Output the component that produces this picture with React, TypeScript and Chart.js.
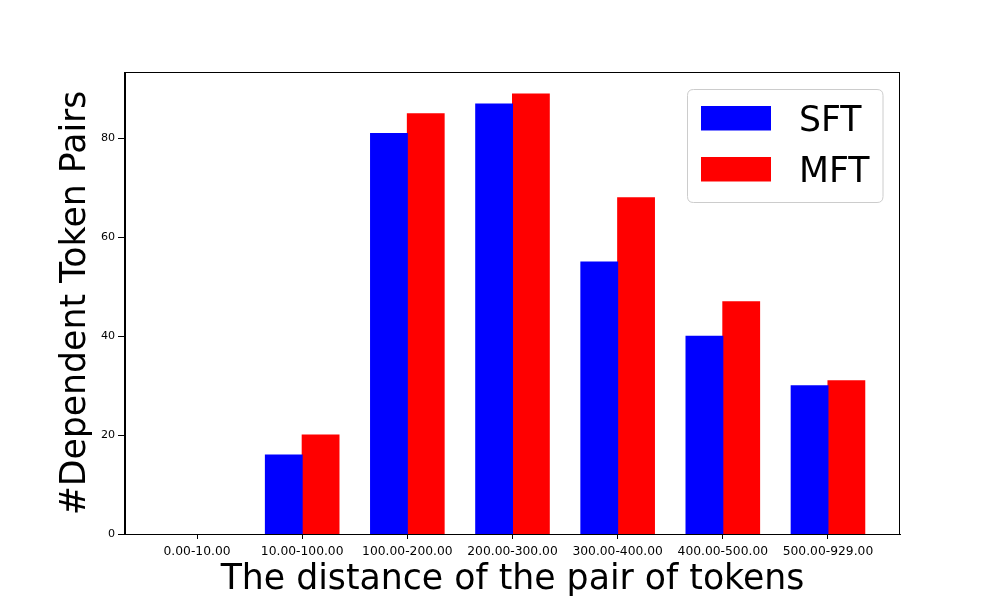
import React, { useEffect, useRef } from "react";
import { Chart, registerables } from "chart.js";

Chart.register(...registerables);

const categories = [
  "0.00-10.00",
  "10.00-100.00",
  "100.00-200.00",
  "200.00-300.00",
  "300.00-400.00",
  "400.00-500.00",
  "500.00-929.00",
];
const sftValues = [0, 16, 81, 87, 55, 40, 30];
const mftValues = [0, 20, 85, 89, 68, 47, 31];
const yTicks = [0, 20, 40, 60, 80];
const seriesNames = ["SFT", "MFT"];
const seriesColors = ["#0000ff", "#ff0000"];
const xTitle = "The distance of the pair of tokens";
const yTitle = "#Dependent Token Pairs";

const FONT = "'DejaVu Sans', sans-serif";

const framePlugin = {
  id: "mplFrame",
  afterDatasetsDraw(chart: any) {
    const { ctx, chartArea } = chart;
    ctx.save();
    ctx.strokeStyle = "#000";
    ctx.lineWidth = 1;
    const l = Math.round(chartArea.left) - 0.5;
    const t = Math.round(chartArea.top) + 0.5;
    const r = Math.round(chartArea.right) - 0.5;
    const b = Math.round(chartArea.bottom) + 0.5;
    ctx.strokeRect(l, t, r - l, b - t);
    ctx.restore();
  },
};

const legendPlugin = {
  id: "mplLegend",
  afterDraw(chart: any) {
    const { ctx, chartArea } = chart;
    const fs = 34.7;
    const w = 195.5;
    const h = 113;
    const x = Math.round(chartArea.right) - 17 - w;
    const y = Math.round(chartArea.top) + 17.5;
    ctx.save();
    const rad = 6;
    ctx.beginPath();
    ctx.moveTo(x + rad, y);
    ctx.lineTo(x + w - rad, y);
    ctx.quadraticCurveTo(x + w, y, x + w, y + rad);
    ctx.lineTo(x + w, y + h - rad);
    ctx.quadraticCurveTo(x + w, y + h, x + w - rad, y + h);
    ctx.lineTo(x + rad, y + h);
    ctx.quadraticCurveTo(x, y + h, x, y + h - rad);
    ctx.lineTo(x, y + rad);
    ctx.quadraticCurveTo(x, y, x + rad, y);
    ctx.closePath();
    ctx.fillStyle = "rgba(255,255,255,0.8)";
    ctx.fill();
    ctx.strokeStyle = "#cccccc";
    ctx.lineWidth = 1;
    ctx.stroke();
    chart.data.datasets.forEach((ds: any, i: number) => {
      const py = y + 16.5 + i * 51;
      ctx.fillStyle = ds.backgroundColor;
      ctx.fillRect(x + 13.5, py, 70, 24.5);
      ctx.fillStyle = "#000";
      ctx.font = `${fs}px ${FONT}`;
      ctx.textAlign = "left";
      ctx.textBaseline = "alphabetic";
      ctx.fillText(ds.label, x + 111.5, py + 12.25 + 0.3645 * fs);
    });
    ctx.restore();
  },
};

const inflate = (c: any) => (c.raw && c.raw.y > 0 ? 0.5 : 0);

export default function App() {
  const ref = useRef<HTMLCanvasElement>(null);

  useEffect(() => {
    if (!ref.current) return;
    const chart = new Chart(ref.current, {
      type: "bar",
      data: {
        datasets: [
          {
            label: seriesNames[0],
            data: sftValues.map((v, i) => ({ x: i, y: v })),
            backgroundColor: seriesColors[0],
            borderWidth: 0,
            inflateAmount: inflate,
            categoryPercentage: 0.7,
            barPercentage: 1.0,
          },
          {
            label: seriesNames[1],
            data: mftValues.map((v, i) => ({ x: i, y: v })),
            backgroundColor: seriesColors[1],
            borderWidth: 0,
            inflateAmount: inflate,
            categoryPercentage: 0.7,
            barPercentage: 1.0,
          },
        ],
      },
      options: {
        responsive: false,
        animation: false,
        events: [],
        layout: { padding: { top: 72, right: 100, left: 0, bottom: 0 } },
        plugins: {
          legend: { display: false },
          tooltip: { enabled: false },
        },
        scales: {
          x: {
            type: "linear",
            offset: false,
            min: -0.685,
            max: 6.685,
            afterBuildTicks: (s: any) => {
              s.ticks = categories.map((_, i) => ({ value: i }));
            },
            afterFit: (s: any) => {
              s.height = 66;
            },
            ticks: {
              autoSkip: false,
              maxRotation: 0,
              minRotation: 0,
              padding: 5,
              color: "#000",
              font: { family: FONT, size: 12.3 },
              callback: (_v: any, i: number) => categories[i],
            },
            grid: {
              display: true,
              offset: false,
              drawOnChartArea: false,
              drawTicks: true,
              tickLength: 5,
              color: "#000",
              lineWidth: 1,
            },
            border: { display: true, color: "#000", width: 1 },
            title: {
              display: true,
              text: xTitle,
              color: "#000",
              font: { family: FONT, size: 34.7, lineHeight: 1.1 },
              padding: { top: 0, bottom: 0.5 },
            },
          },
          y: {
            type: "linear",
            min: 0,
            max: 93.45,
            afterBuildTicks: (s: any) => {
              s.ticks = yTicks.map((v) => ({ value: v }));
            },
            afterFit: (s: any) => {
              s.width = 125;
            },
            ticks: {
              padding: 3,
              color: "#000",
              font: { family: FONT, size: 11.1 },
              callback: (v: any) => String(v),
            },
            grid: {
              display: true,
              drawOnChartArea: false,
              drawTicks: true,
              tickLength: 7,
              color: "#000",
              lineWidth: 1,
            },
            border: { display: true, color: "#000", width: 1 },
            title: {
              display: true,
              text: yTitle,
              color: "#000",
              font: { family: FONT, size: 34.7, lineHeight: 1.2 },
              padding: { top: 55, bottom: 0 },
            },
          },
        },
      },
      plugins: [framePlugin, legendPlugin],
    } as any);
    return () => chart.destroy();
  }, []);

  return (
    <div
      style={{
        position: "absolute",
        left: 0,
        top: 0,
        width: 1000,
        height: 600,
        background: "#fff",
      }}
    >
      <canvas ref={ref} width={1000} height={600} style={{ display: "block" }} />
    </div>
  );
}
